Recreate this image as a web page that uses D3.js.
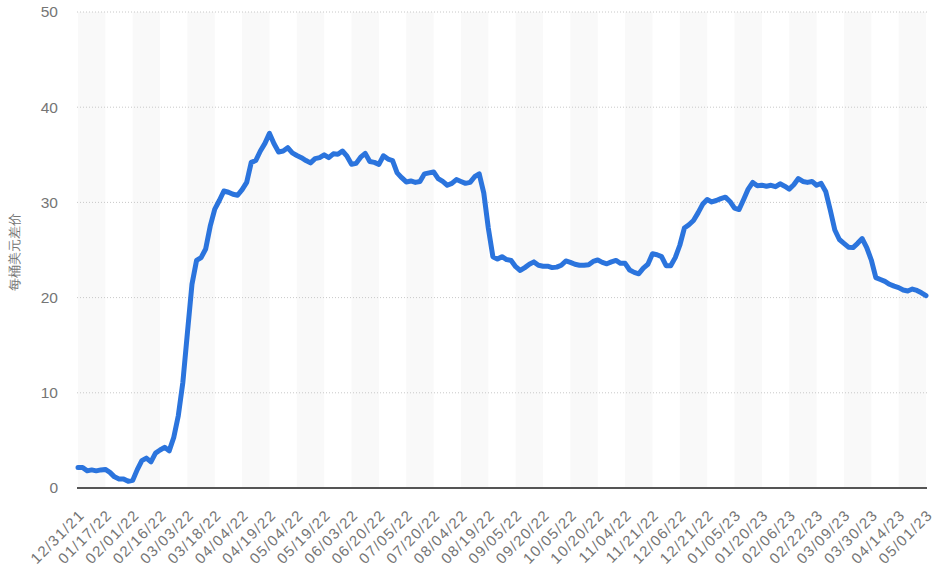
<!DOCTYPE html>
<html>
<head>
<meta charset="utf-8">
<script src="https://cdn.jsdelivr.net/npm/d3@7/dist/d3.min.js"></script>
<style>
  html, body { margin: 0; padding: 0; background: #fff; }
  svg { display: block; font-family: "Open Sans", "Noto Sans", sans-serif; }
</style>
</head>
<body>
<svg id="chart" width="941" height="569"></svg>
<script>
// Axis labels shown along the bottom, one per band
const dateLabels = [
  "12/31/21","01/17/22","02/01/22","02/16/22","03/03/22","03/18/22","04/04/22","04/19/22",
  "05/04/22","05/19/22","06/03/22","06/20/22","07/05/22","07/20/22","08/04/22","08/19/22",
  "09/05/22","09/20/22","10/05/22","10/20/22","11/04/22","11/21/22","12/06/22","12/21/22",
  "01/05/23","01/20/23","02/06/23","02/22/23","03/09/23","03/30/23","04/14/23","05/01/23"
];

// Observations per label interval
const stepsPerLabel = 6;

// Spread, USD per barrel, evenly spaced observations
const spread = [
  2.16, 2.16, 1.8, 1.9, 1.8, 1.9,
  1.95, 1.64, 1.17, 0.94, 0.94, 0.7,
  0.8, 1.93, 2.87, 3.14, 2.75, 3.66,
  3.99, 4.27, 3.9, 5.3, 7.6, 11.1,
  16.3, 21.4, 23.9, 24.2, 25.1, 27.5,
  29.3, 30.2, 31.2, 31.07, 30.85, 30.75,
  31.34, 32.1, 34.2, 34.4, 35.4, 36.2,
  37.25, 36.15, 35.3, 35.4, 35.75, 35.2,
  34.93, 34.7, 34.4, 34.15, 34.6, 34.7,
  35.0, 34.7, 35.1, 35.05, 35.4, 34.85,
  34.0, 34.1, 34.75, 35.15, 34.3, 34.2,
  34.0, 34.9, 34.55, 34.4, 33.1, 32.6,
  32.15, 32.25, 32.1, 32.2, 33.0, 33.1,
  33.2, 32.5, 32.2, 31.8, 32.0, 32.4,
  32.2, 32.0, 32.1, 32.7, 33.0, 31.0,
  27.3, 24.3, 24.05, 24.3, 24.0, 23.9,
  23.25, 22.85, 23.15, 23.5, 23.75, 23.4,
  23.3, 23.3, 23.15, 23.2, 23.4, 23.85,
  23.7, 23.5, 23.4, 23.4, 23.45, 23.8,
  23.95, 23.7, 23.55, 23.75, 23.9, 23.6,
  23.6, 22.9, 22.65, 22.5, 23.1, 23.5,
  24.6, 24.5, 24.3, 23.35, 23.35, 24.2,
  25.5, 27.3, 27.65, 28.1, 28.9, 29.8,
  30.3, 30.05, 30.2, 30.4, 30.55, 30.1,
  29.4, 29.25, 30.3, 31.4, 32.1, 31.75,
  31.8, 31.7, 31.8, 31.65, 31.95, 31.7,
  31.4, 31.85, 32.5, 32.2, 32.1, 32.2,
  31.8, 32.0, 31.15, 29.2, 27.1, 26.1,
  25.7, 25.3, 25.25, 25.7, 26.2, 25.25,
  23.95, 22.1, 21.9, 21.7, 21.4, 21.2,
  21.05, 20.8, 20.7, 20.9, 20.75, 20.5,
  20.2
];

const yTicks = [0, 10, 20, 30, 40, 50];
const yTitle = "每桶美元差价";

const margin = { left: 78, right: 14, top: 12, bottom: 81 };
const width = 941, height = 569;
const svg = d3.select("#chart");

const x = d3.scaleLinear()
  .domain([0, spread.length - 1])
  .range([margin.left, width - margin.right - 1]);
const y = d3.scaleLinear()
  .domain([0, 50])
  .range([height - margin.bottom, margin.top]);

const labelIndex = i => i * stepsPerLabel;

// Alternating background bands between labels
const bands = d3.range(dateLabels.length - 1).filter(i => i % 2 === 0);
svg.append("g").selectAll("rect").data(bands).join("rect")
  .attr("x", i => x(labelIndex(i)))
  .attr("width", i => x(labelIndex(i + 1)) - x(labelIndex(i)))
  .attr("y", y(50))
  .attr("height", y(0) - y(50))
  .attr("fill", "#f9f9f9");

// Horizontal grid
const yAxis = d3.axisLeft(y).tickValues(yTicks).tickSize(0).tickPadding(20);
const gy = svg.append("g").attr("transform", `translate(${margin.left},0)`).call(yAxis);
gy.select(".domain").remove();
gy.selectAll("text").attr("fill", "#757575").attr("font-size", 15.5);
svg.append("g").selectAll("line").data(yTicks.filter(d => d > 0)).join("line")
  .attr("x1", margin.left - 1).attr("x2", width - margin.right)
  .attr("y1", d => y(d)).attr("y2", d => y(d))
  .attr("stroke", "#c8c8c8").attr("stroke-width", 1)
  .attr("stroke-dasharray", "1,2");

// Baseline
svg.append("line")
  .attr("x1", margin.left - 1).attr("x2", width - margin.right)
  .attr("y1", y(0)).attr("y2", y(0))
  .attr("stroke", "#555").attr("stroke-width", 2);

// Bottom labels
const xAxis = d3.axisBottom(x)
  .tickValues(dateLabels.map((d, i) => labelIndex(i)))
  .tickFormat((d, i) => dateLabels[i])
  .tickSize(0);
const gx = svg.append("g").attr("transform", `translate(0,${y(0)})`).call(xAxis);
gx.select(".domain").remove();
gx.selectAll("text")
  .attr("fill", "#757575")
  .attr("font-size", 15)
  .attr("letter-spacing", "1.3px")
  .attr("text-anchor", "end")
  .attr("dy", 0)
  .attr("y", 0)
  .attr("transform", "translate(7,28) rotate(-45)");

// Y title
svg.append("text")
  .attr("transform", `translate(19,${(y(20) + y(30)) / 2 + 2}) rotate(-90)`)
  .attr("text-anchor", "middle")
  .attr("fill", "#757575")
  .attr("font-size", 13)
  .text(yTitle);

// Series line
const line = d3.line().x((d, i) => x(i)).y(d => y(d));
svg.append("path")
  .datum(spread)
  .attr("d", line)
  .attr("fill", "none")
  .attr("stroke", "#2b74dd")
  .attr("stroke-width", 5)
  .attr("stroke-linejoin", "round")
  .attr("stroke-linecap", "round");
</script>
</body>
</html>
